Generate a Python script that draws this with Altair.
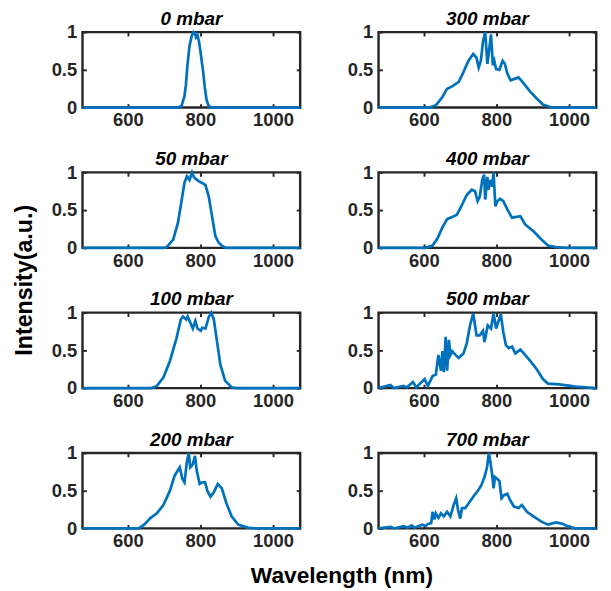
import altair as alt
import pandas as pd

FONT = "Liberation Sans"
LINE = "#0072BD"
DARK = "#262626"

titles = ["0 mbar", "50 mbar", "100 mbar", "200 mbar",
          "300 mbar", "400 mbar", "500 mbar", "700 mbar"]
x_ticks = [600, 800, 1000]
y_ticks = [0, 0.5, 1]

wl_0 = [475, 738, 748, 756, 760, 764, 770, 776, 781, 785, 788, 792, 796, 800, 804, 807, 812, 817, 822, 828, 1075]
in_0 = [0, 0, 0.02, 0.15, 0.3, 0.55, 0.82, 0.95, 1.0, 0.98, 0.93, 0.96, 0.88, 0.75, 0.6, 0.5, 0.27, 0.1, 0.03, 0, 0]

wl_50 = [475, 700, 707, 725, 738, 747, 756, 763, 770, 777, 783, 788, 796, 805, 814, 823, 832, 841, 850, 859, 870, 1075]
in_50 = [0, 0, 0.01, 0.11, 0.33, 0.59, 0.86, 0.95, 0.9, 1.0, 0.93, 0.91, 0.88, 0.86, 0.83, 0.68, 0.42, 0.16, 0.07, 0.03, 0, 0]

wl_100 = [475, 665, 671, 680, 698, 716, 734, 746, 752, 761, 765, 772, 779, 786, 792, 801, 805, 814, 823, 830, 837, 846, 855, 868, 886, 900, 1075]
in_100 = [0, 0, 0.01, 0.03, 0.14, 0.36, 0.66, 0.91, 0.95, 0.91, 0.95, 0.87, 0.79, 0.89, 0.79, 0.76, 0.8, 0.79, 0.94, 1.0, 0.91, 0.61, 0.31, 0.1, 0.01, 0, 0]

wl_200 = [475, 630, 645, 663, 680, 698, 716, 729, 743, 750, 756, 763, 768, 772, 779, 785, 790, 798, 805, 813, 819, 828, 837, 848, 859, 872, 886, 904, 930, 950, 1075]
in_200 = [0, 0, 0.05, 0.14, 0.2, 0.31, 0.5, 0.7, 0.81, 0.66, 0.61, 0.89, 1.0, 0.81, 0.85, 0.96, 0.76, 0.59, 0.61, 0.61, 0.5, 0.42, 0.48, 0.59, 0.53, 0.33, 0.16, 0.05, 0.01, 0, 0]

wl_300 = [475, 615, 633, 651, 664, 678, 696, 709, 723, 736, 745, 751, 757, 763, 769, 775, 781, 785, 790, 794, 799, 808, 817, 823, 830, 839, 850, 861, 875, 893, 911, 928, 946, 960, 1075]
in_300 = [0, 0, 0.03, 0.14, 0.25, 0.28, 0.34, 0.47, 0.62, 0.71, 0.66, 0.53, 0.62, 0.88, 1.0, 0.58, 0.81, 0.97, 0.56, 0.62, 0.51, 0.5, 0.62, 0.58, 0.45, 0.36, 0.38, 0.4, 0.32, 0.21, 0.12, 0.04, 0.01, 0, 0]

wl_400 = [475, 605, 624, 638, 651, 664, 678, 691, 705, 718, 732, 741, 748, 754, 761, 766, 769, 775, 778, 783, 788, 792, 797, 803, 810, 819, 830, 843, 855, 866, 879, 902, 924, 942, 964, 991, 1075]
in_400 = [0, 0, 0.03, 0.13, 0.27, 0.38, 0.41, 0.44, 0.57, 0.7, 0.77, 0.75, 0.62, 0.68, 0.9, 0.97, 0.64, 0.94, 0.77, 0.9, 0.81, 1.0, 0.55, 0.62, 0.65, 0.62, 0.51, 0.4, 0.41, 0.42, 0.31, 0.22, 0.11, 0.03, 0.01, 0, 0]

wl_500 = [475, 508, 517, 544, 553, 570, 579, 602, 611, 624, 633, 640, 647, 651, 655, 660, 664, 669, 673, 678, 687, 696, 709, 718, 727, 736, 745, 754, 763, 767, 776, 785, 792, 799, 805, 812, 819, 826, 834, 843, 852, 866, 879, 893, 911, 928, 942, 973, 1018, 1075]
in_500 = [0, 0.04, 0, 0.03, 0.01, 0.08, 0.01, 0.12, 0.03, 0.16, 0.18, 0.44, 0.23, 0.49, 0.21, 0.68, 0.23, 0.64, 0.44, 0.49, 0.44, 0.4, 0.46, 0.59, 0.83, 0.99, 0.7, 0.7, 0.76, 0.61, 0.83, 0.79, 0.99, 0.79, 0.88, 0.98, 0.74, 0.57, 0.53, 0.55, 0.46, 0.51, 0.44, 0.36, 0.25, 0.12, 0.06, 0.05, 0.02, 0]

wl_700 = [475, 508, 520, 544, 555, 566, 575, 584, 597, 605, 611, 620, 624, 629, 633, 640, 647, 655, 664, 673, 682, 689, 694, 700, 705, 714, 723, 736, 749, 758, 767, 774, 779, 783, 788, 792, 796, 801, 808, 814, 821, 830, 837, 848, 861, 870, 884, 902, 924, 942, 964, 982, 1000, 1018, 1075]
in_700 = [0, 0.02, 0, 0.03, 0.01, 0.04, 0.01, 0.03, 0.05, 0.03, 0.06, 0.07, 0.22, 0.12, 0.2, 0.14, 0.2, 0.16, 0.22, 0.16, 0.31, 0.4, 0.25, 0.13, 0.27, 0.27, 0.33, 0.42, 0.5, 0.57, 0.68, 0.81, 1.0, 0.89, 0.72, 0.53, 0.68, 0.66, 0.63, 0.4, 0.44, 0.46, 0.38, 0.29, 0.27, 0.31, 0.22, 0.16, 0.09, 0.05, 0.08, 0.06, 0.02, 0, 0]

series = [(wl_0, in_0), (wl_50, in_50), (wl_100, in_100), (wl_200, in_200),
          (wl_300, in_300), (wl_400, in_400), (wl_500, in_500), (wl_700, in_700)]

X_DOMAIN = [475, 1075]
W, H = 225, 78
TICK = dict(tickColor=DARK, tickWidth=2, tickSize=4, labels=False, domain=False,
            grid=False, title=None)


def panel(title, wl, inten):
    df = pd.DataFrame({"wl": wl, "I": inten})
    xs = alt.Scale(domain=X_DOMAIN, nice=False, zero=False)
    ys = alt.Scale(domain=[0, 1], nice=False)
    main = alt.Chart().mark_line(color=LINE, strokeWidth=2.8, clip=False).encode(
        x=alt.X("wl:Q", scale=xs, axis=alt.Axis(
            values=x_ticks, format="d", ticks=False, domain=False, grid=False,
            labelFont=FONT, labelFontSize=19, labelFontWeight="bold",
            labelColor=DARK, labelPadding=4, labelFlush=False, title=None, orient="bottom")),
        y=alt.Y("I:Q", scale=ys, axis=alt.Axis(
            values=y_ticks, format="~g", ticks=False, domain=False, grid=False,
            labelFont=FONT, labelFontSize=19, labelFontWeight="bold",
            labelColor=DARK, labelPadding=6, labelFlush=False, title=None, orient="left")),
    )
    outer_ticks = alt.Chart().mark_line(opacity=0).encode(
        x=alt.X("wl:Q", scale=xs, axis=alt.Axis(values=x_ticks, orient="top", offset=-4, **TICK)),
        y=alt.Y("I:Q", scale=ys, axis=alt.Axis(values=y_ticks, orient="right", offset=-4, **TICK)),
    )
    inner_ticks = alt.Chart().mark_line(opacity=0).encode(
        x=alt.X("wl:Q", scale=xs, axis=alt.Axis(values=x_ticks, orient="bottom", offset=-4, **TICK)),
        y=alt.Y("I:Q", scale=ys, axis=alt.Axis(values=y_ticks, orient="left", offset=-4, **TICK)),
    )
    return alt.layer(main, outer_ticks, inner_ticks, data=df).resolve_axis(
        x="independent", y="independent"
    ).properties(
        width=W, height=H,
        title=alt.TitleParams(title, font=FONT, fontSize=19.5, fontWeight="bold",
                              fontStyle="italic", color="black", offset=-6,
                              anchor="middle", frame="group"),
    )


panels = [panel(t, w, i) for t, (w, i) in zip(titles, series)]
rows = [alt.hconcat(panels[r], panels[r + 4], spacing=40) for r in range(4)]

inner = alt.vconcat(*rows, spacing=17).properties(
    title=alt.TitleParams("Wavelength (nm)", orient="bottom", anchor="middle",
                          font=FONT, fontSize=23.5, fontWeight="bold", color="black",
                          offset=13, dx=16)
)
chart = alt.hconcat(inner).properties(
    title=alt.TitleParams("Intensity(a.u.)", orient="left", anchor="middle",
                          font=FONT, fontSize=24, fontWeight="bold", color="black",
                          offset=14, dx=18)
).configure(padding={"left": 5, "top": -10, "right": 0, "bottom": 0}).configure_view(
    stroke=DARK, strokeWidth=2.5)

chart.save("out.html", embed_options={"renderer": "svg", "actions": False})
